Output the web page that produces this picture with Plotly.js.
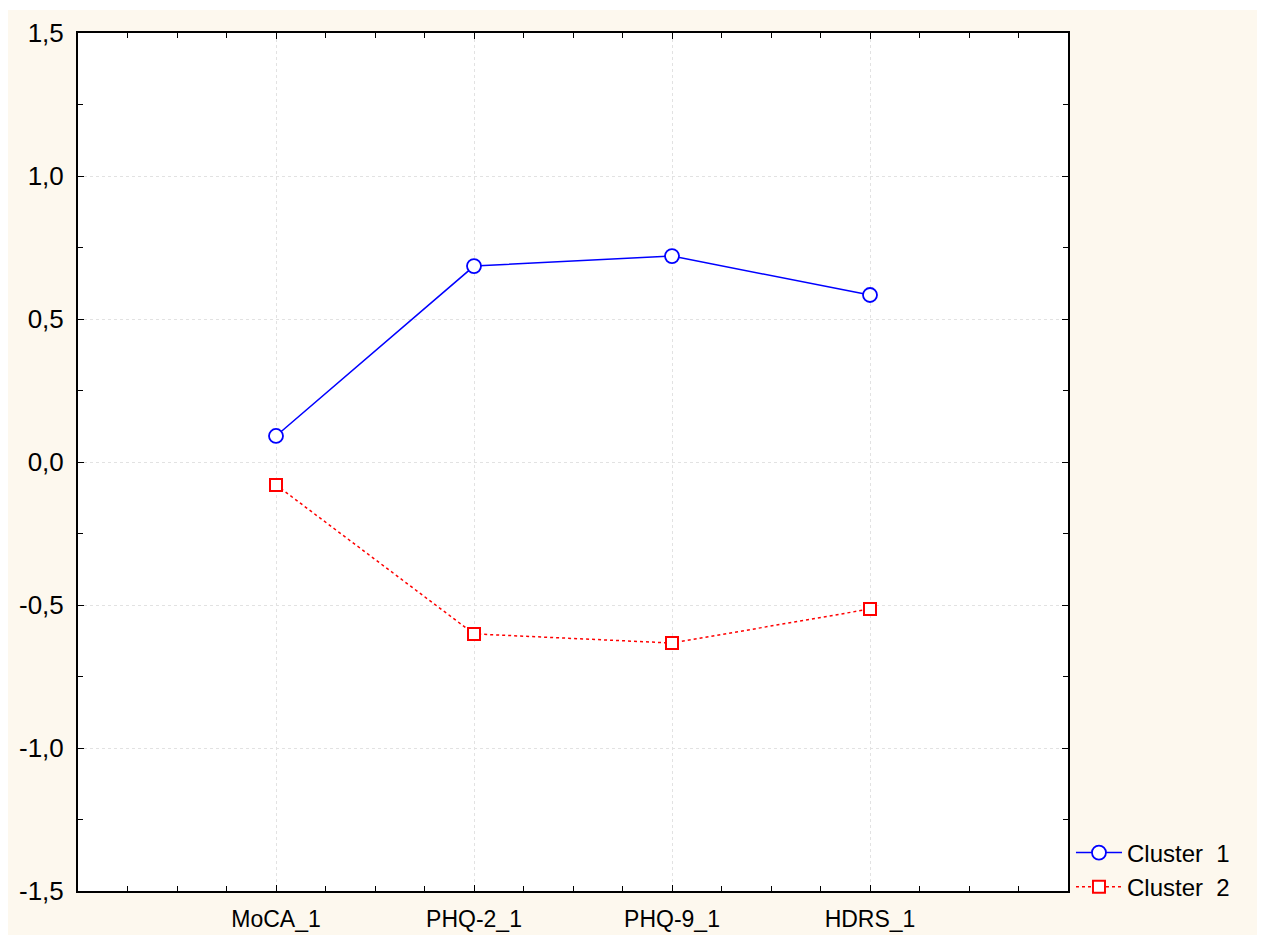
<!DOCTYPE html>
<html><head><meta charset="utf-8">
<script src="https://cdn.plot.ly/plotly-3.0.1.min.js"></script>
<style>html,body{margin:0;padding:0;background:#fff}#chart{width:1261px;height:938px}</style>
</head><body><div id="chart"></div>
<script>
const categories = ["MoCA_1", "PHQ-2_1", "PHQ-9_1", "HDRS_1"];
const cluster1 = [0.091, 0.685, 0.720, 0.584];
const cluster2 = [-0.080, -0.601, -0.633, -0.514];
const seriesNames = ["Cluster\u00a0 1", "Cluster\u00a0 2"];
const yTicks = [-1.5, -1.0, -0.5, 0.0, 0.5, 1.0, 1.5];
const yTickLabels = yTicks.map(v => v.toFixed(1).replace('.', ','));

const xIdx = categories.map((c, i) => i);
const traces = [
  {x: xIdx, y: cluster1, name: seriesNames[0], mode: 'lines+markers', type: 'scatter',
   line: {color: '#0000ff', width: 1.5},
   marker: {symbol: 'circle', size: 14, color: '#ffffff', line: {width: 1.8, color: '#0000ff'}}},
  {x: xIdx, y: cluster2, name: seriesNames[1], mode: 'lines+markers', type: 'scatter',
   line: {color: '#ff0000', width: 1.5, dash: 'dot'},
   marker: {symbol: 'square', size: 12, color: '#ffffff', line: {width: 2, color: '#ff0000'}}}
];
const layout = {
  width: 1261, height: 938,
  margin: {l: 78, r: 193, t: 33, b: 47},
  paper_bgcolor: '#ffffff', plot_bgcolor: '#ffffff',
  showlegend: true,
  legend: {x: 1.003, xanchor: 'left', y: 0.0245, yanchor: 'middle', bgcolor: 'rgba(0,0,0,0)',
           font: {family: 'Liberation Sans, Arial, sans-serif', size: 24, color: '#000'},
           tracegroupgap: 0, itemwidth: 46},
  xaxis: {range: [-1, 4], tickvals: xIdx, ticktext: categories, showgrid: true,
          gridcolor: '#e2e2e2', griddash: 'dot', gridwidth: 1, zeroline: false,
          showline: true, linecolor: '#000', linewidth: 2, mirror: 'ticks',
          ticks: 'inside', ticklen: 6, tickcolor: '#000', tickwidth: 1, ticklabelstandoff: 6,
          minor: {dtick: 0.25, tick0: 0, ticks: 'inside', ticklen: 5, tickcolor: '#000', showgrid: false},
          tickfont: {family: 'Liberation Sans, Arial, sans-serif', size: 23, color: '#000'}},
  yaxis: {range: [-1.5, 1.5], tickvals: yTicks, ticktext: yTickLabels, showgrid: true,
          gridcolor: '#e2e2e2', griddash: 'dot', gridwidth: 1, zeroline: false,
          showline: true, linecolor: '#000', linewidth: 2, mirror: 'ticks',
          ticks: 'inside', ticklen: 6, tickcolor: '#000', tickwidth: 1, ticklabelstandoff: 7,
          minor: {dtick: 0.25, tick0: 0, ticks: 'inside', ticklen: 5, tickcolor: '#000', showgrid: false},
          tickfont: {family: 'Liberation Sans, Arial, sans-serif', size: 26, color: '#000'}},
  shapes: [
    {type: 'rect', xref: 'paper', yref: 'paper', x0: -0.0707, x1: 1.1909, y0: -0.0513, y1: 1.0268,
     fillcolor: '#fdf8ee', line: {width: 0}, layer: 'below'},
    {type: 'rect', xref: 'paper', yref: 'paper', x0: 0, x1: 1, y0: 0, y1: 1,
     fillcolor: '#ffffff', line: {width: 0}, layer: 'below'}
  ]
};
Plotly.newPlot('chart', traces, layout, {displayModeBar: false, staticPlot: true});
</script></body></html>
